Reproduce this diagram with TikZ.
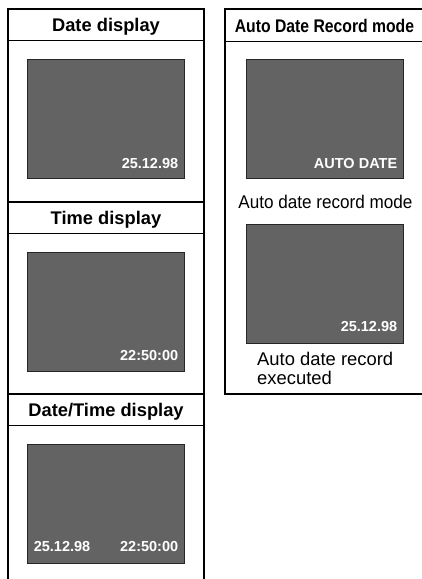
\documentclass[tikz,border=0pt]{standalone}
\usepackage{fontspec}
\setmainfont{Liberation Sans}
\newfontfamily\narrowsans{Liberation Sans}[FakeStretch=0.86]
\newfontfamily\condsans{Liberation Sans}[FakeStretch=0.93]
\usetikzlibrary{positioning}

\tikzset{
  frame/.style={line width=2.5pt},
  rule/.style={line width=1pt},
  screen/.style={draw=black!85,fill=black!61,line width=0.8pt,
    minimum width=157pt,minimum height=119pt,inner sep=0pt},
  paneltitle/.style={inner sep=0pt,font=\bfseries\fontsize{18.3}{20}\selectfont},
  osd/.style={inner sep=0pt,text=white,font=\bfseries\fontsize{14.5}{16}\selectfont},
  caption/.style={inner sep=0pt,font=\fontsize{18.4}{19}\selectfont}
}

\begin{document}
\begin{tikzpicture}[x=1pt,y=-1pt]
    \useasboundingbox (0,0) rectangle (421,579);
    % left column: three panels
    \draw[frame] (8,579) -- (8,9) -- (204,9) -- (204,579);
    \draw[frame] (8,202) -- (204,202) (8,394) -- (204,394);
    \foreach \id/\ttl/\py in {date/Date display/9,time/Time display/202,both/{Date/Time display}/394}{
        \draw[rule] (8,\py+31) -- (204,\py+31);
        \node[paneltitle,anchor=base] (\id title) at (106,\py+22.5) {\ttl};
        \node[screen,anchor=north] (\id scr) at (105.5,\py+50) {};
    }
    \node[osd,anchor=base east] (datetxt) at ([shift={(-6,-10)}]datescr.south east) {25.12.98};
    \node[osd,anchor=base east] (timetxt) at ([shift={(-6,-11)}]timescr.south east) {22:50:00};
    \node[osd,anchor=base west] (bothdate) at ([shift={(7,-12)}]bothscr.south west) {25.12.98};
    \node[osd,anchor=base east] (bothtime) at ([shift={(-6,-12)}]bothscr.south east) {22:50:00};
    % right column
    \draw[frame] (425,9) -- (225,9) -- (225,394) -- (425,394);
    \draw[rule] (225,41) -- (425,41);
    \node[paneltitle,anchor=base] (autotitle) at (324.5,32) {\narrowsans Auto Date Record mode};
    \node[screen,anchor=north] (autoscr) at (325,59) {};
    \node[osd,anchor=base east] (autotxt) at ([shift={(-6.5,-10)}]autoscr.south east) {AUTO DATE};
    \node[caption,anchor=base] (autocap) at (325.5,208) {\condsans Auto date record mode};
    \node[screen,below=44.7pt of autoscr] (recscr) {};
    \node[osd,anchor=base east] (rectxt) at ([shift={(-6.5,-12)}]recscr.south east) {25.12.98};
    \node[caption,anchor=north west,align=left] (reccap) at (257,351.7) {Auto date record\\executed};
\end{tikzpicture}
\end{document}
